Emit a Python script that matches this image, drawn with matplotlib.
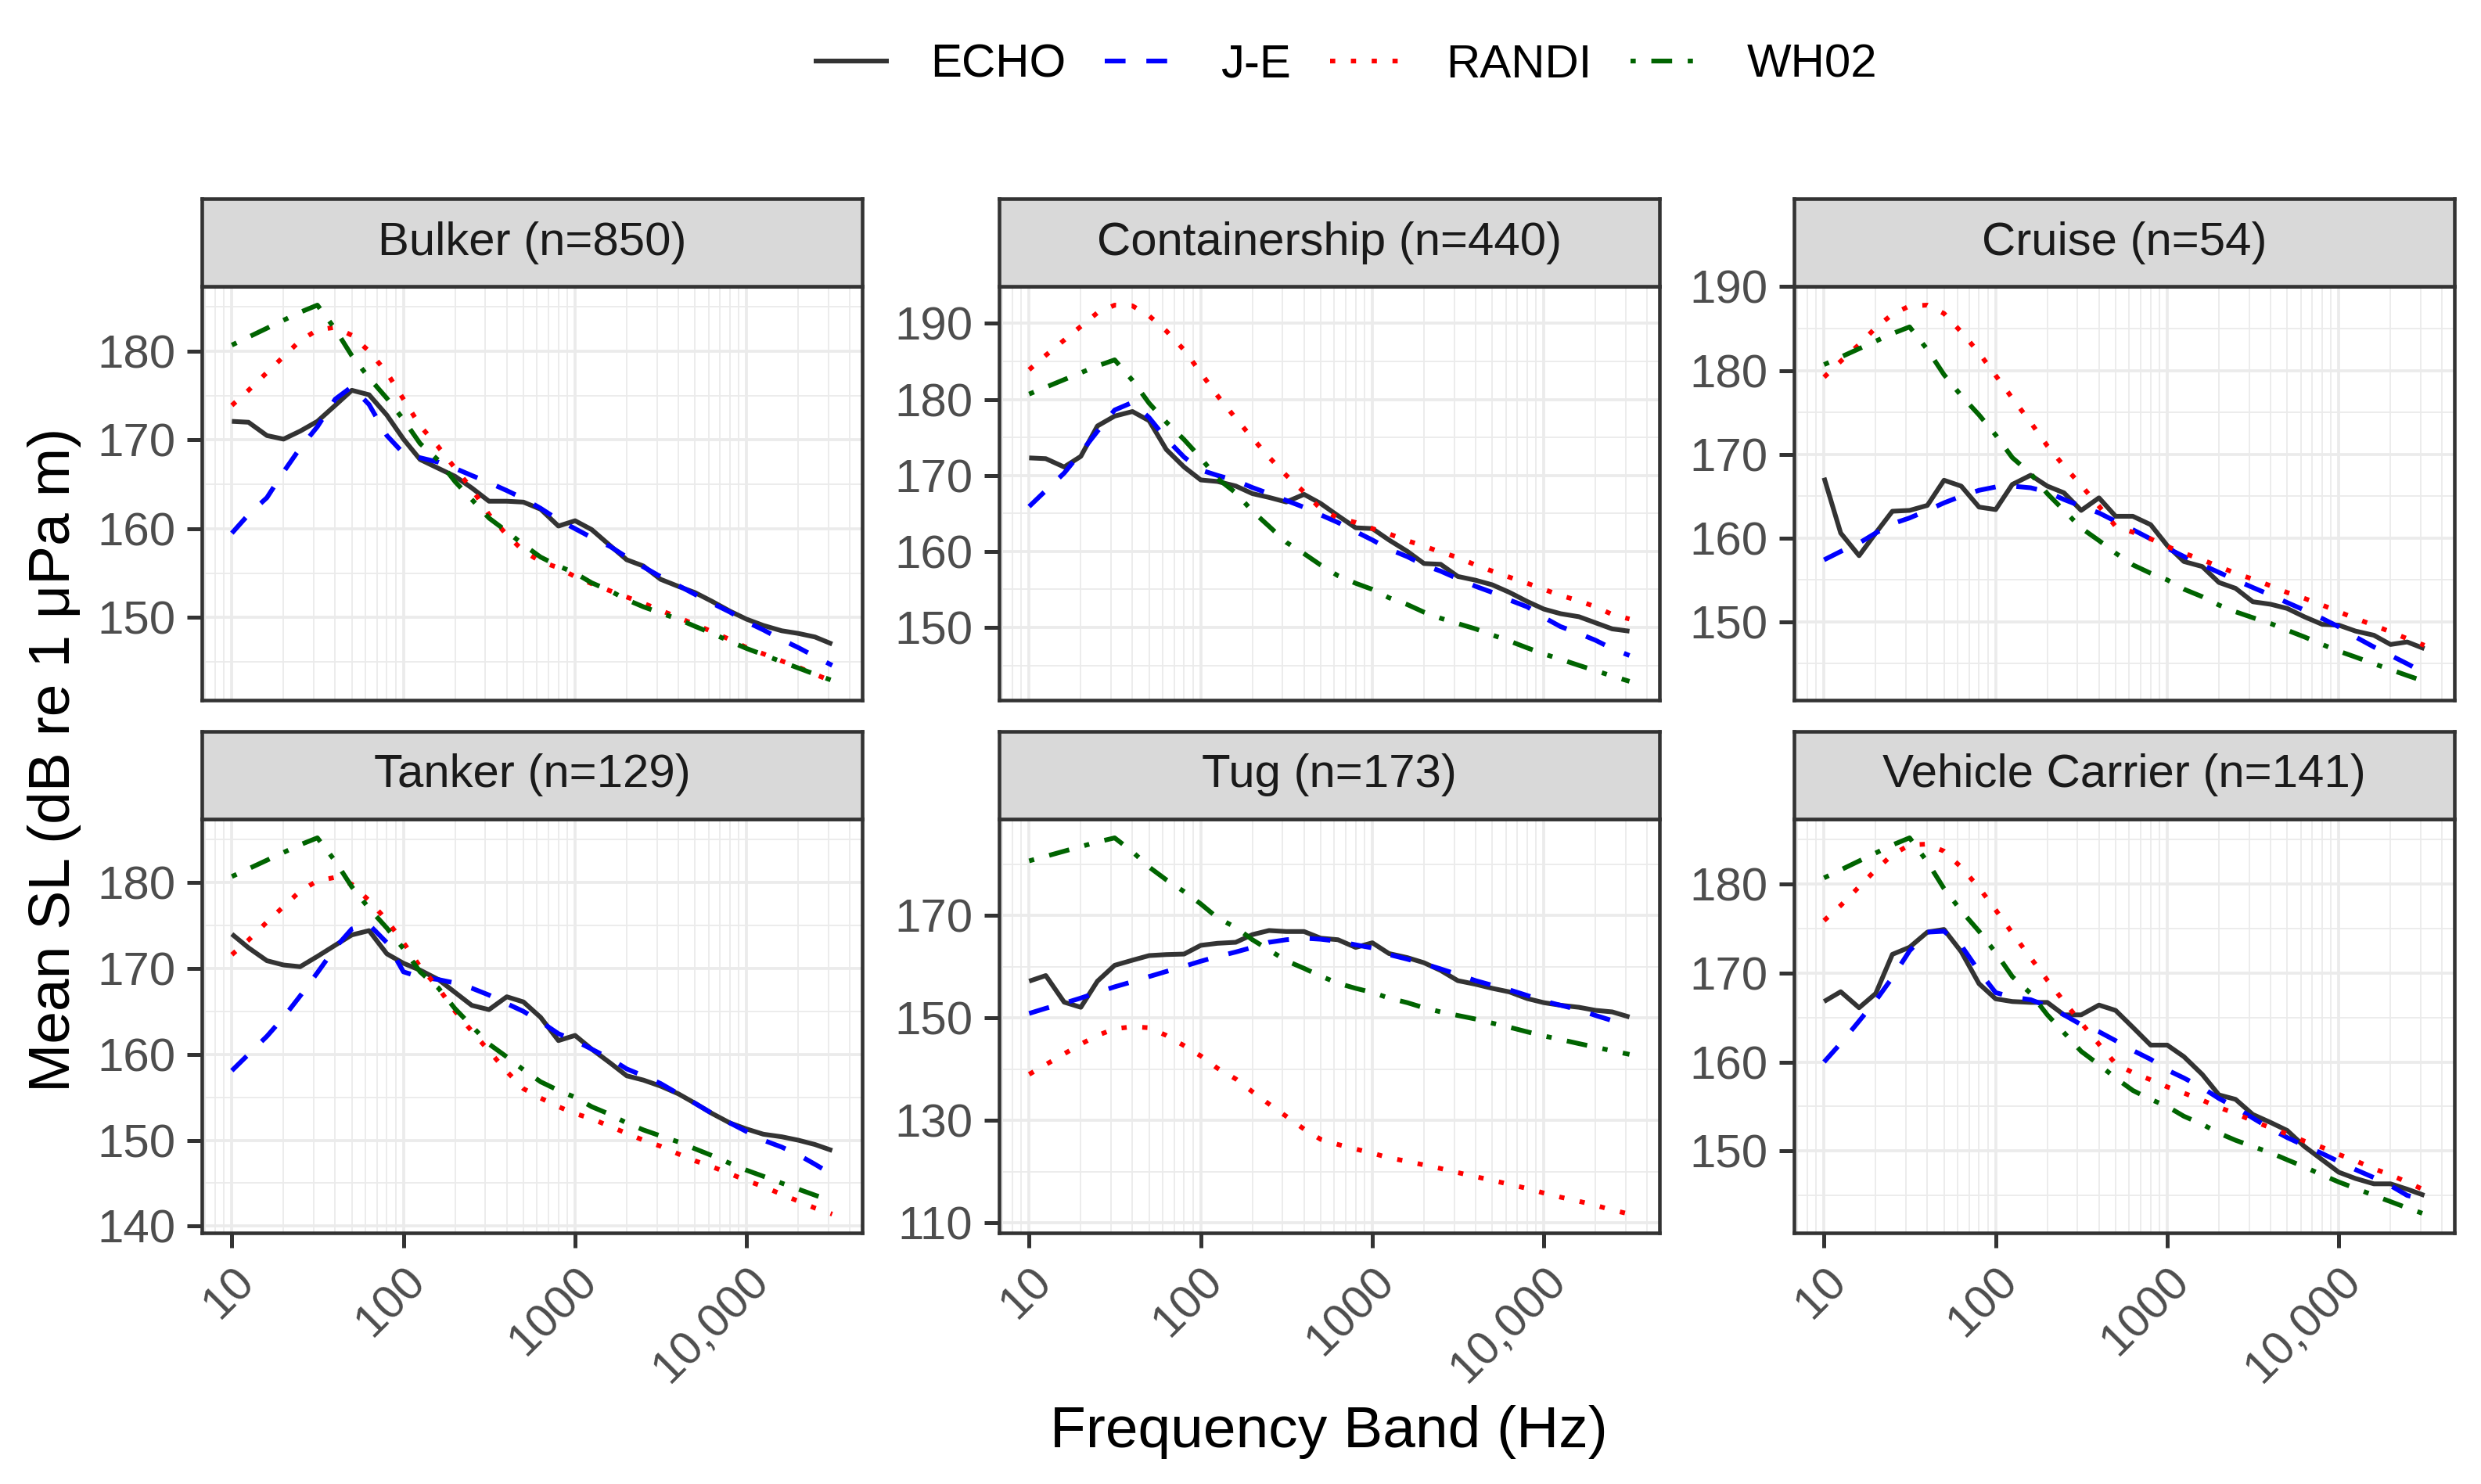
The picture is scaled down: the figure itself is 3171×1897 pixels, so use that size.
import matplotlib.pyplot as plt
import numpy as np
from matplotlib.ticker import FixedLocator, LogLocator, NullFormatter

plt.rcParams['font.family'] = ['Liberation Sans', 'DejaVu Sans']

# third-octave band centre frequencies (Hz)
freqs = [10, 12.5, 16, 20, 25, 31.5, 40, 50, 63, 80, 100, 125, 160, 200, 250,
         315, 400, 500, 630, 800, 1000, 1250, 1600, 2000, 2500, 3150, 4000,
         5000, 6300, 8000, 10000, 12500, 16000, 20000, 25000, 31500]

panel_titles = ['Bulker (n=850)', 'Containership (n=440)', 'Cruise (n=54)',
                'Tanker (n=129)', 'Tug (n=173)', 'Vehicle Carrier (n=141)']

y_ticks = [[150, 160, 170, 180], [150, 160, 170, 180, 190],
           [150, 160, 170, 180, 190], [140, 150, 160, 170, 180],
           [110, 130, 150, 170], [150, 160, 170, 180]]

x_ticks = [10, 100, 1000, 10000]
x_labels = ['10', '100', '1000', '10,000']

# WH02 is the same for every ship type
wh02 = [180.7, 181.6, 182.6, 183.5, 184.4, 185.2, 182.5, 179.5, 177.0, 174.7,
        172.3, 169.6, 167.7, 165.3, 163.3, 161.2, 159.7, 158.2, 156.8, 155.8,
        155.0, 153.9, 153.0, 152.0, 151.2, 150.5, 149.8, 149.0, 148.2, 147.3,
        146.5, 145.8, 145.0, 144.3, 143.6, 142.9]

echo_bulker = [172.1, 172.0, 170.5, 170.1, 171.0, 172.1, 173.9, 175.6, 175.1, 172.8,
               170.1, 167.8, 166.8, 165.9, 164.6, 163.1, 163.1, 163.0, 162.2, 160.3,
               160.9, 159.9, 158.1, 156.5, 155.8, 154.3, 153.5, 152.8, 151.8, 150.7,
               149.8, 149.1, 148.5, 148.2, 147.8, 147.0]
je_bulker = [159.5, 161.6, 163.5, 166.4, 169.1, 171.5, 174.6, 176.0, 174.0, 170.5,
             168.5, 168.0, 167.5, 166.8, 166.0, 165.2, 164.3, 163.4, 162.3, 161.0,
             160.0, 159.0, 158.0, 156.8, 155.7, 154.6, 153.6, 152.6, 151.6, 150.6,
             149.5, 148.6, 147.5, 146.6, 145.6, 144.6]
randi_bulker = [173.9, 175.6, 177.6, 179.4, 181.2, 182.4, 182.7, 181.8, 180.0, 177.6,
                174.6, 171.6, 169.2, 166.8, 164.5, 161.6, 159.3, 157.5, 156.3, 155.6,
                154.6, 153.8, 153.0, 152.3, 151.6, 150.8, 150.0, 149.2, 148.4, 147.5,
                146.6, 145.9, 145.1, 144.4, 143.6, 142.8]

echo_cont = [172.3, 172.2, 171.1, 172.5, 176.5, 177.8, 178.4, 177.2, 173.4, 171.1,
             169.4, 169.2, 168.6, 167.6, 167.1, 166.5, 167.5, 166.3, 164.7, 163.1,
             163.0, 161.5, 160.0, 158.4, 158.3, 156.7, 156.2, 155.6, 154.6, 153.4,
             152.4, 151.8, 151.4, 150.6, 149.8, 149.5]
je_cont = [165.9, 168.0, 170.3, 173.0, 175.8, 178.6, 179.6, 177.6, 174.8, 172.4,
           170.7, 170.0, 169.3, 168.4, 167.6, 166.7, 165.8, 164.8, 163.8, 162.6,
           161.5, 160.3, 159.3, 158.2, 157.4, 156.4, 155.4, 154.6, 153.6, 152.7,
           151.3, 150.1, 149.2, 148.3, 147.2, 146.3]
randi_cont = [183.9, 185.8, 187.8, 189.6, 191.4, 192.4, 192.3, 191.0, 189.0, 186.5,
              183.5, 180.5, 177.5, 174.9, 172.4, 170.0, 167.8, 165.6, 164.4, 163.8,
              163.0, 162.3, 161.4, 160.7, 159.9, 159.2, 158.2, 157.4, 156.6, 155.8,
              155.0, 154.2, 153.5, 152.7, 151.7, 151.1]

echo_cruise = [167.2, 160.6, 157.9, 160.6, 163.2, 163.3, 163.9, 166.9, 166.2, 163.7,
               163.4, 166.4, 167.5, 166.2, 165.4, 163.3, 164.8, 162.6, 162.6, 161.6,
               159.1, 157.2, 156.6, 154.7, 154.0, 152.4, 152.1, 151.6, 150.6, 149.7,
               149.6, 148.9, 148.4, 147.3, 147.6, 146.8]
je_cruise = [157.4, 158.4, 159.4, 160.6, 161.7, 162.4, 163.3, 164.2, 165.0, 165.7,
             166.1, 166.2, 166.0, 165.5, 164.6, 163.8, 163.0, 162.0, 161.0, 159.9,
             158.8, 157.8, 156.8, 155.9, 155.0, 154.1, 153.2, 152.3, 151.4, 150.4,
             149.4, 148.2, 147.0, 146.0, 145.0, 143.9]
randi_cruise = [179.2, 181.1, 183.1, 185.1, 186.7, 187.7, 187.8, 186.8, 184.6, 182.1,
                179.4, 176.7, 173.8, 171.0, 168.6, 166.3, 163.8, 161.4, 160.7, 159.9,
                159.0, 158.2, 157.4, 156.6, 155.8, 155.1, 154.3, 153.5, 152.8, 152.0,
                151.2, 150.4, 149.6, 148.8, 148.0, 147.2]

echo_tanker = [174.0, 172.4, 170.9, 170.4, 170.2, 171.4, 172.7, 173.9, 174.4, 171.7,
               170.6, 169.8, 168.7, 167.2, 165.7, 165.2, 166.7, 166.1, 164.3, 161.6,
               162.2, 160.6, 159.0, 157.5, 157.0, 156.3, 155.4, 154.3, 153.1, 152.0,
               151.3, 150.7, 150.4, 150.0, 149.5, 148.8]
je_tanker = [158.1, 160.0, 162.1, 164.3, 166.8, 169.5, 172.4, 174.6, 175.1, 173.0,
             169.6, 169.0, 168.7, 168.3, 167.7, 166.9, 165.9, 165.0, 163.8, 162.4,
             161.6, 160.6, 159.5, 158.3, 157.5, 156.6, 155.4, 154.3, 153.1, 152.0,
             151.0, 150.0, 149.2, 148.3, 147.2, 146.0]
randi_tanker = [171.6, 173.3, 175.4, 177.2, 179.0, 180.2, 180.6, 179.8, 177.9, 175.6,
                173.0, 170.2, 167.7, 165.0, 162.7, 160.4, 158.0, 156.0, 154.9, 153.9,
                153.1, 152.5, 151.6, 150.8, 150.0, 149.3, 148.4, 147.6, 146.9, 146.1,
                145.3, 144.6, 143.7, 142.9, 142.1, 141.4]

echo_tug = [157.2, 158.3, 153.1, 152.1, 157.2, 160.3, 161.3, 162.2, 162.4, 162.5,
            164.2, 164.6, 164.8, 166.3, 167.1, 166.9, 166.9, 165.6, 165.3, 163.8,
            164.7, 162.6, 161.8, 160.8, 159.3, 157.3, 156.6, 155.8, 155.1, 153.8,
            153.0, 152.5, 152.1, 151.5, 151.2, 150.2]
je_tug = [150.9, 151.9, 152.9, 153.9, 155.0, 156.1, 157.1, 158.1, 159.1, 160.1,
          161.1, 162.0, 162.9, 163.8, 164.8, 165.3, 165.6, 165.4, 165.0, 164.3,
          163.7, 162.4, 161.5, 160.6, 159.6, 158.5, 157.3, 156.4, 155.5, 154.4,
          153.3, 152.5, 151.6, 150.5, 149.5, 148.4]
randi_tug = [139.0, 140.9, 143.0, 144.9, 146.6, 147.9, 148.3, 148.1, 146.6, 144.6,
             142.6, 140.2, 138.1, 135.6, 133.2, 130.8, 128.3, 126.3, 125.3, 124.4,
             123.6, 122.7, 122.0, 121.3, 120.6, 119.8, 119.0, 118.3, 117.5, 116.7,
             115.8, 115.0, 114.2, 113.4, 112.5, 111.7]

echo_veh = [166.8, 167.9, 166.1, 167.7, 172.1, 172.9, 174.6, 174.9, 172.4, 168.8,
            167.1, 166.8, 166.7, 166.7, 165.3, 165.3, 166.4, 165.8, 163.9, 161.9,
            161.9, 160.6, 158.6, 156.3, 155.8, 154.1, 153.2, 152.3, 150.5, 149.0,
            147.6, 146.9, 146.3, 146.3, 145.7, 145.0]
je_veh = [160.0, 162.1, 164.6, 166.9, 169.5, 172.5, 174.6, 174.7, 173.1, 170.2,
          167.8, 167.3, 167.0, 166.3, 165.3, 164.2, 163.4, 162.4, 161.3, 160.3,
          159.1, 158.2, 157.1, 155.9, 154.9, 153.7, 152.5, 151.5, 150.6, 149.7,
          148.8, 147.9, 147.0, 146.1, 145.0, 144.5]
randi_veh = [175.9, 177.6, 179.7, 181.6, 183.3, 184.4, 184.5, 183.7, 181.9, 179.6,
             177.1, 174.5, 171.7, 169.2, 166.8, 164.4, 162.0, 159.8, 158.8, 158.0,
             157.2, 156.5, 155.7, 154.9, 154.2, 153.4, 152.6, 151.9, 151.1, 150.4,
             149.6, 148.9, 148.0, 147.3, 146.5, 145.6]

echo_all = [echo_bulker, echo_cont, echo_cruise, echo_tanker, echo_tug, echo_veh]
je_all = [je_bulker, je_cont, je_cruise, je_tanker, je_tug, je_veh]
randi_all = [randi_bulker, randi_cont, randi_cruise, randi_tanker, randi_tug, randi_veh]

# series styles (ggplot linetypes: solid, 44, 13, 1343)
styles = [('ECHO', '#333333', None),
          ('J-E', '#0000FF', (4.4, 4.4)),
          ('RANDI', '#FF0000', (1.1, 3.3)),
          ('WH02', '#006400', (1.1, 3.3, 4.4, 3.3))]
LW = 1.45

fig = plt.figure(figsize=(3171 / 300, 1897 / 300), dpi=300)

lefts = [258 / 3171, 1277 / 3171, 2293 / 3171]
width = 844 / 3171
plot_bottoms = [1 - 895 / 1897, 1 - 1576 / 1897]
plot_h = 529 / 1897
strip_h = 112 / 1897

lx = np.log10(freqs)
pad = 0.05 * (lx.max() - lx.min())
xlim = (10 ** (lx.min() - pad), 10 ** (lx.max() + pad))

handles = []
for i, title in enumerate(panel_titles):
    row, col = divmod(i, 3)
    ax = fig.add_axes([lefts[col], plot_bottoms[row], width, plot_h])
    sx = fig.add_axes([lefts[col], plot_bottoms[row] + plot_h, width, strip_h])

    series = [echo_all[i], je_all[i], randi_all[i], wh02]
    for (name, colr, dash), ys in zip(styles, series):
        ln, = ax.plot(freqs, ys, color=colr, lw=LW, label=name,
                      solid_capstyle='butt', dash_capstyle='butt')
        if dash is not None:
            ln.set_dashes(dash)
        if i == 0:
            handles.append(ln)

    ax.set_xscale('log')
    ax.set_xlim(*xlim)
    allv = np.concatenate([np.asarray(s) for s in series])
    ypad = 0.05 * (allv.max() - allv.min())
    ax.set_ylim(allv.min() - ypad, allv.max() + ypad)

    yt = y_ticks[i]
    step = yt[1] - yt[0]
    ax.yaxis.set_major_locator(FixedLocator(yt))
    ax.yaxis.set_minor_locator(FixedLocator(np.arange(yt[0] - step / 2, yt[-1] + step, step)))
    ax.set_xticks(x_ticks)
    ax.xaxis.set_minor_locator(LogLocator(base=10, subs=np.arange(2, 10), numticks=20))
    ax.xaxis.set_minor_formatter(NullFormatter())

    ax.set_axisbelow(True)
    ax.grid(which='major', color='#EBEBEB', lw=0.9)
    ax.grid(which='minor', color='#EBEBEB', lw=0.45)
    for sp in ax.spines.values():
        sp.set_color('#333333')
        sp.set_linewidth(1.1)

    ax.tick_params(which='major', length=4.5, width=1.2, color='#333333',
                   labelsize=14.4, labelcolor='#4D4D4D', pad=3.6)
    ax.tick_params(which='minor', length=0)
    if row == 1:
        ax.set_xticklabels(x_labels)
        for lbl in ax.get_xticklabels():
            lbl.set_rotation(45)
            lbl.set_ha('right')
            lbl.set_va('top')
            lbl.set_rotation_mode('anchor')
    else:
        ax.tick_params(axis='x', which='major', length=0, labelbottom=False)

    sx.set_facecolor('#D9D9D9')
    sx.set_xticks([])
    sx.set_yticks([])
    for sp in sx.spines.values():
        sp.set_color('#333333')
        sp.set_linewidth(1.1)
    sx.text(0.5, 0.5, title, transform=sx.transAxes, ha='center', va='center',
            fontsize=14.4, color='#1A1A1A')

fig.legend(handles, [s[0] for s in styles], loc='center',
           bbox_to_anchor=(0.5424, 0.956), ncol=4, frameon=False, fontsize=14.4,
           handlelength=1.6, handletextpad=0.88, columnspacing=0.82)

fig.text(0.5355, 0.035, 'Frequency Band (Hz)', ha='center', va='center', fontsize=18)
fig.text(0.022, 0.488, 'Mean SL (dB re 1 \u03bcPa m)', ha='center', va='center',
         rotation=90, fontsize=18)

fig.savefig('out.png', dpi=300)
